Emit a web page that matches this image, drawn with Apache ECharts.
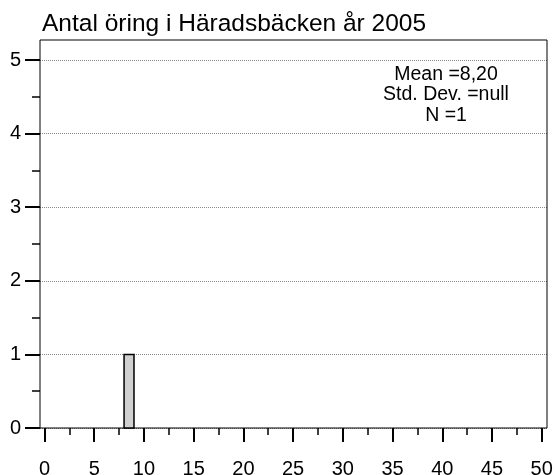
<!DOCTYPE html>
<html><head><meta charset="utf-8">
<script src="https://cdn.jsdelivr.net/npm/echarts@6/dist/echarts.min.js"></script>
<style>html,body{margin:0;padding:0;background:#fff}#c{width:558px;height:475px}</style>
</head><body><div id="c"></div>
<script>
const titleText = 'Antal öring i Häradsbäcken år 2005';
const binStart = [8];
const binEnd = [9];
const counts = [1];
const statsLines = ['Mean =8,20', 'Std. Dev. =null', 'N =1'];
const xTickValues = [0, 5, 10, 15, 20, 25, 30, 35, 40, 45, 50];
const xTickLabels = ['0', '5', '10', '15', '20', '25', '30', '35', '40', '45', '50'];
const yTickValues = [0, 1, 2, 3, 4, 5];
const yTickLabels = ['0', '1', '2', '3', '4', '5'];

const FONT = 'Liberation Sans, Arial, sans-serif';
const barData = binStart.map((s, i) => [s, binEnd[i], counts[i]]);

const chart = echarts.init(document.getElementById('c'), null, {renderer: 'canvas'});
chart.setOption({
  animation: false,
  backgroundColor: '#fff',
  title: {
    text: titleText, left: 37, top: 7,
    textStyle: {fontSize: 24.5, fontWeight: 'normal', fontFamily: FONT, color: '#000'}
  },
  grid: [
    {left: 40, right: 11, top: 40, bottom: 47, outerBoundsMode: 'none', containLabel: false, show: true, borderColor: '#000', borderWidth: 1, backgroundColor: 'transparent', z: 5},
    {left: 40, right: 11, top: 60, bottom: 47, outerBoundsMode: 'none', containLabel: false},
    {left: 44.5, right: 16.3, top: 60, bottom: 47, outerBoundsMode: 'none', containLabel: false}
  ],
  xAxis: [
    {gridIndex: 0, type: 'value', min: 0, max: 1, show: false},
    {gridIndex: 1, type: 'value', min: 0, max: 1, show: false},
    {gridIndex: 2, type: 'value', min: xTickValues[0], max: xTickValues[xTickValues.length - 1], interval: 5,
     axisLine: {show: false},
     axisTick: {show: true, length: 14, lineStyle: {color: '#000', width: 2}},
     minorTick: {show: true, splitNumber: 2, length: 7, lineStyle: {color: '#000', width: 1.5}},
     splitLine: {show: false},
     axisLabel: {margin: 31, fontSize: 20, fontFamily: FONT, color: '#000',
       formatter: v => { const i = xTickValues.indexOf(v); return i >= 0 ? xTickLabels[i] : ''; }}
    }
  ],
  yAxis: [
    {gridIndex: 0, type: 'value', min: 0, max: 1, show: false},
    {gridIndex: 1, type: 'value', min: yTickValues[0], max: yTickValues[yTickValues.length - 1], interval: 1,
     axisLine: {show: false},
     axisTick: {show: true, length: 15, lineStyle: {color: '#000', width: 2}},
     minorTick: {show: true, splitNumber: 2, length: 8, lineStyle: {color: '#000', width: 1.5}},
     splitLine: {show: true, lineStyle: {type: 'dotted', color: '#8a8a8a', width: 1}},
     axisLabel: {margin: 19, fontSize: 20, fontFamily: FONT, color: '#000',
       formatter: v => { const i = yTickValues.indexOf(v); return i >= 0 ? yTickLabels[i] : ''; }}
    },
    {gridIndex: 2, type: 'value', min: yTickValues[0], max: yTickValues[yTickValues.length - 1], show: false}
  ],
  graphic: [
    {type: 'text', x: 446, y: 64, z: 10,
     style: {text: statsLines.join('\n'), align: 'center', verticalAlign: 'top',
       font: '19.5px ' + FONT, lineHeight: 20.5, fill: '#000'}}
  ],
  series: [
    {type: 'custom', xAxisIndex: 2, yAxisIndex: 2, z: 10,
     encode: {x: [0, 1], y: 2},
     data: barData,
     renderItem: (params, api) => {
       const p0 = api.coord([api.value(0), api.value(2)]);
       const p1 = api.coord([api.value(1), 0]);
       return {type: 'rect',
         shape: {x: p0[0], y: p0[1], width: p1[0] - p0[0], height: p1[1] - p0[1]},
         style: {fill: '#d0d0d0', stroke: '#000', lineWidth: 1.5}};
     }}
  ]
});
</script></body></html>
